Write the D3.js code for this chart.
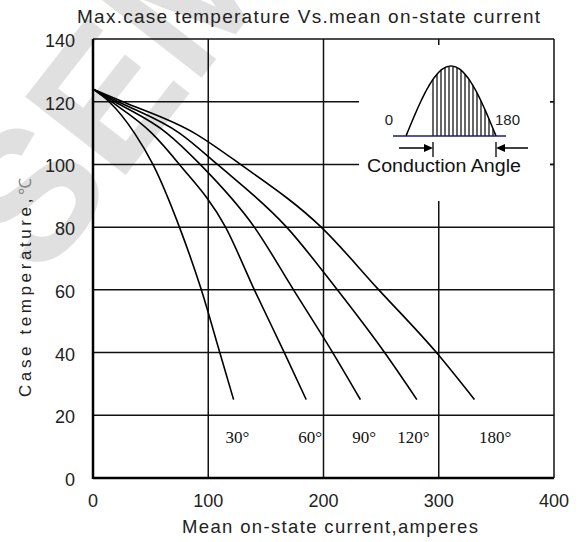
<!DOCTYPE html>
<html>
<head>
<meta charset="utf-8">
<script src="https://cdn.jsdelivr.net/npm/d3@7"></script>
<style>
  html, body { margin: 0; padding: 0; background: #fff; }
  svg { display: block; font-family: "Liberation Sans", Arial, sans-serif; }
</style>
</head>
<body>
<div id="chart"></div>
<script>
// conduction angles, one curve each
const angles = ['30°', '60°', '90°', '120°', '180°'];

// case temperature points (x = current A, y = temp C)
const temps = [124, 120, 110, 100, 80, 60, 40, 25];
const curr30 = [0, 14, 36, 52, 75, 94, 110, 122];
const curr60 = [0, 16, 51, 75, 115, 140, 166, 185];
const curr90 = [0, 19, 64, 93, 140, 174, 208, 232];
const curr120 = [0, 22, 75, 108, 168, 212, 253, 281];
const curr180 = [0, 26, 88, 128, 198, 248, 298, 331];
const currents = [curr30, curr60, curr90, curr120, curr180];

const xTicks = [0, 100, 200, 300, 400];
const yTicks = [0, 20, 40, 60, 80, 100, 120, 140];

const width = 587, height = 542;
const margin = {top: 39, right: 33, bottom: 64, left: 93};

const svg = d3.select('#chart').append('svg')
  .attr('width', width)
  .attr('height', height);

// light watermark behind everything
svg.append('text')
  .attr('transform', 'translate(42,282) rotate(-52)')
  .attr('font-size', 185)
  .attr('font-weight', 'bold')
  .attr('fill', '#e0e0e0')
  .text('SEMI');

const x = d3.scaleLinear().domain([0, 400]).range([margin.left, width - margin.right]);
const y = d3.scaleLinear().domain([0, 140]).range([height - margin.bottom, margin.top]);

//grid lines
svg.append('g')
  .selectAll('line')
  .data(yTicks.filter(d => d > 0 && d < 140))
  .join('line')
  .attr('x1', x(0)).attr('x2', x(400))
  .attr('y1', d => y(d)).attr('y2', d => y(d))
  .attr('stroke', '#111').attr('stroke-width', 1.5);

svg.append('g')
  .selectAll('line')
  .data(xTicks.filter(d => d > 0 && d < 400))
  .join('line')
  .attr('x1', d => x(d)).attr('x2', d => x(d))
  .attr('y1', y(0)).attr('y2', y(140))
  .attr('stroke', '#111').attr('stroke-width', 1.5);

// frame
svg.append('line').attr('x1', x(0)).attr('x2', x(400)).attr('y1', y(140)).attr('y2', y(140))
  .attr('stroke', '#111').attr('stroke-width', 1.5);
svg.append('line').attr('x1', x(400)).attr('x2', x(400)).attr('y1', y(0)).attr('y2', y(140))
  .attr('stroke', '#111').attr('stroke-width', 1.5);
svg.append('line').attr('x1', x(0)).attr('x2', x(0)).attr('y1', y(0) + 1).attr('y2', y(140))
  .attr('stroke', '#000').attr('stroke-width', 2.5);
svg.append('line').attr('x1', x(0)).attr('x2', x(400)).attr('y1', y(0)).attr('y2', y(0))
  .attr('stroke', '#000').attr('stroke-width', 2.5);

// curves
const line = d3.line()
  .x(d => x(d[0]))
  .y(d => y(d[1]))
  .curve(d3.curveMonotoneX);

svg.append('g')
  .selectAll('path')
  .data(currents.map(c => c.map((v, i) => [v, temps[i]])))
  .join('path')
  .attr('d', line)
  .attr('fill', 'none')
  .attr('stroke', '#000')
  .attr('stroke-width', 1.6);

// curve labels
const labelX = [115, 178, 225, 264, 335];
svg.append('g')
  .selectAll('text')
  .data(angles)
  .join('text')
  .attr('x', (d, i) => x(labelX[i]))
  .attr('y', 443)
  .style('font-family', '"Liberation Serif", "Times New Roman", serif')
  .attr('font-size', 17)
  .attr('fill', '#111')
  .text(d => d);

// tick labels
svg.append('g')
  .selectAll('text')
  .data(yTicks)
  .join('text')
  .attr('x', 75)
  .attr('y', d => y(d) + 8)
  .attr('text-anchor', 'end')
  .attr('font-size', 18)
  .attr('fill', '#222')
  .text(d => d);

svg.append('g')
  .selectAll('text')
  .data(xTicks)
  .join('text')
  .attr('x', d => x(d))
  .attr('y', 506.5)
  .attr('text-anchor', 'middle')
  .attr('font-size', 18)
  .attr('fill', '#222')
  .text(d => d);

// title and axis labels
svg.append('text')
  .attr('x', 77).attr('y', 23)
  .attr('font-size', 19)
  .attr('fill', '#222')
  .attr('textLength', 463).attr('lengthAdjust', 'spacing')
  .text('Max.case temperature Vs.mean on-state current');

svg.append('text')
  .attr('x', 182).attr('y', 533)
  .attr('font-size', 18.5)
  .attr('fill', '#222')
  .attr('textLength', 296).attr('lengthAdjust', 'spacing')
  .text('Mean on-state current,amperes');

const yLab = svg.append('text')
  .attr('transform', 'translate(31,397) rotate(-90)')
  .attr('font-size', 17)
  .attr('fill', '#222')
  .attr('textLength', 219).attr('lengthAdjust', 'spacing');
yLab.append('tspan').text('Case temperature,');
yLab.append('tspan').attr('fill', '#888').text('℃');

// inset: conduction angle sketch
const inset = svg.append('g');
inset.append('rect')
  .attr('x', 359).attr('y', 45).attr('width', 191).attr('height', 156)
  .attr('fill', '#fff');

const ax = d3.scaleLinear().domain([0, 180]).range([406, 496]);
const ay = d3.scaleLinear().domain([0, 1]).range([136, 66]);
const wave = d3.range(0, 181, 3).map(a => [a, Math.sin(a * Math.PI / 180)]);

const hatch = d3.range(54, 178, 8);
inset.selectAll('line.h')
  .data(hatch)
  .join('line')
  .attr('class', 'h')
  .attr('x1', d => ax(d)).attr('x2', d => ax(d))
  .attr('y1', ay(0)).attr('y2', d => ay(Math.sin(d * Math.PI / 180)))
  .attr('stroke', '#000').attr('stroke-width', 1.2);

inset.append('path')
  .attr('d', d3.line().x(d => ax(d[0])).y(d => ay(d[1])).curve(d3.curveBasis)(wave))
  .attr('fill', 'none').attr('stroke', '#000').attr('stroke-width', 1.5);

inset.append('line')
  .attr('x1', 393).attr('x2', 506).attr('y1', ay(0)).attr('y2', ay(0))
  .attr('stroke', '#1a1a80').attr('stroke-width', 1.5);

// arrows
inset.append('line').attr('x1', 399).attr('x2', ax(54) - 6).attr('y1', 148).attr('y2', 148)
  .attr('stroke', '#000').attr('stroke-width', 1.5);
inset.append('path')
  .attr('d', `M${ax(54)},148 L${ax(54) - 9},144 L${ax(54) - 9},152 Z`).attr('fill', '#000');
inset.append('line').attr('x1', ax(54)).attr('x2', ax(54)).attr('y1', 142).attr('y2', 157)
  .attr('stroke', '#000').attr('stroke-width', 1.3);

inset.append('line').attr('x1', ax(180) + 6).attr('x2', 528).attr('y1', 148).attr('y2', 148)
  .attr('stroke', '#000').attr('stroke-width', 1.5);
inset.append('path')
  .attr('d', `M${ax(180)},148 L${ax(180) + 9},144 L${ax(180) + 9},152 Z`).attr('fill', '#000');
inset.append('line').attr('x1', ax(180)).attr('x2', ax(180)).attr('y1', 142).attr('y2', 157)
  .attr('stroke', '#000').attr('stroke-width', 1.3);

inset.append('text').attr('x', 389).attr('y', 125).attr('text-anchor', 'middle')
  .attr('font-size', 15).attr('fill', '#222').text('0');
inset.append('text').attr('x', 495).attr('y', 125)
  .attr('font-size', 15).attr('fill', '#222').text('180');
inset.append('text').attr('x', 367).attr('y', 172)
  .attr('font-size', 17.5).attr('fill', '#111')
  .attr('textLength', 154).attr('lengthAdjust', 'spacingAndGlyphs')
  .text('Conduction Angle');

// short bits of the grid that show at the inset edges
inset.selectAll('line.stub')
  .data([100, 120])
  .join('line')
  .attr('class', 'stub')
  .attr('x1', 550).attr('x2', x(400))
  .attr('y1', d => y(d)).attr('y2', d => y(d))
  .attr('stroke', '#111').attr('stroke-width', 1.5);
</script>
</body>
</html>
